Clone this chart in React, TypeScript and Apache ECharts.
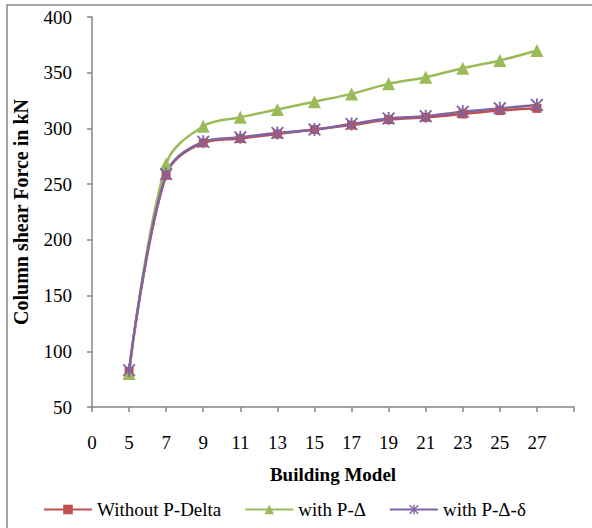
import React, { useEffect, useRef } from "react";
import * as echarts from "echarts";

const categories = ["0", "5", "7", "9", "11", "13", "15", "17", "19", "21", "23", "25", "27", ""];
const withoutPDelta = [null, 82, 258, 287, 291, 295, 299, 303, 308, 310, 313, 316, 318, null];
const withPDelta = [null, 80, 268, 302, 310, 317, 324, 331, 340, 346, 354, 361, 370, null];
const withPDeltaDelta = [null, 83, 259, 288, 292, 296, 299, 304, 309, 311, 315, 318, 321, null];
const seriesNames = ["Without P-Delta", "with P-\u0394", "with P-\u0394-\u03b4"];

const FONT = "'Liberation Serif', 'Times New Roman', serif";
const AXIS = "#868686";

const starPath =
  "path://M4.3 0 H5.7 V10 H4.3 Z M1 0 L10 9 L9 10 L0 1 Z M9 0 L10 1 L1 10 L0 9 Z";

export default function App() {
  const ref = useRef<HTMLDivElement>(null);
  useEffect(() => {
    if (!ref.current) return;
    const chart = echarts.init(ref.current, null, { renderer: "svg" });
    chart.setOption({
      animation: false,
      backgroundColor: "#fff",
      graphic: [
        {
          type: "rect",
          shape: { x: 7, y: 5, width: 700, height: 700 },
          style: { fill: "none", stroke: AXIS, lineWidth: 1.5 },
          silent: true,
        },
      ],
      grid: { left: 92, right: 18, top: 17, bottom: 121 },
      legend: {
        left: 38,
        top: 495,
        itemWidth: 48,
        itemHeight: 12,
        itemGap: 23,
        textStyle: { fontFamily: FONT, fontSize: 19, color: "#000" },
        data: seriesNames,
      },
      xAxis: {
        type: "category",
        data: categories,
        boundaryGap: false,
        name: "Building Model",
        nameLocation: "middle",
        nameGap: 58,
        nameTextStyle: { fontFamily: FONT, fontSize: 19, fontWeight: "bold", color: "#000" },
        axisLine: { lineStyle: { color: AXIS, width: 1.5 } },
        axisTick: { alignWithLabel: true, length: 5, lineStyle: { color: AXIS, width: 1.5 } },
        axisLabel: { fontFamily: FONT, fontSize: 19, color: "#000", margin: 26, interval: 0 },
        splitLine: { show: false },
      },
      yAxis: {
        type: "value",
        min: 50,
        max: 400,
        interval: 50,
        name: "Column shear Force in kN",
        nameLocation: "middle",
        nameGap: 61,
        nameTextStyle: { fontFamily: FONT, fontSize: 20, fontWeight: "bold", color: "#000" },
        axisLine: { show: true, lineStyle: { color: AXIS, width: 1.5 } },
        axisTick: { show: true, length: 5, lineStyle: { color: AXIS, width: 1.5 } },
        axisLabel: { fontFamily: FONT, fontSize: 19, color: "#000", margin: 20 },
        splitLine: { show: false },
      },
      series: [
        {
          name: seriesNames[0],
          type: "line",
          data: withoutPDelta,
          smooth: 0.35,
          symbol: "rect",
          symbolSize: 9,
          color: "#C0504D",
          lineStyle: { width: 2.5, color: "#C0504D" },
          itemStyle: { color: "#C0504D" },
        },
        {
          name: seriesNames[1],
          type: "line",
          data: withPDelta,
          smooth: 0.35,
          symbol: "triangle",
          symbolSize: 13,
          color: "#9BBB59",
          lineStyle: { width: 2.5, color: "#9BBB59" },
          itemStyle: { color: "#9BBB59" },
        },
        {
          name: seriesNames[2],
          type: "line",
          data: withPDeltaDelta,
          smooth: 0.35,
          symbol: starPath,
          symbolSize: 13,
          color: "#8064A2",
          lineStyle: { width: 2.5, color: "#8064A2" },
          itemStyle: { color: "#8064A2" },
        },
      ],
    });
    return () => chart.dispose();
  }, []);
  return (
    <div
      ref={ref}
      style={{ position: "fixed", left: 0, top: 0, width: 592, height: 528 }}
    />
  );
}
